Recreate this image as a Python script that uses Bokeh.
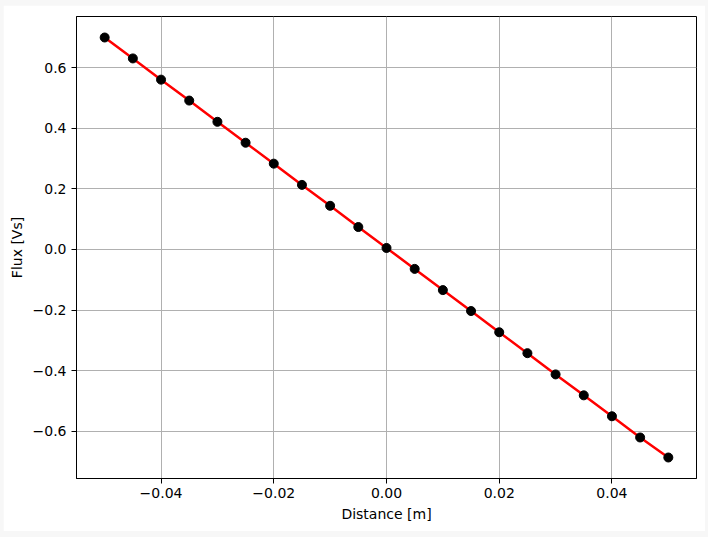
from bokeh.plotting import figure
from bokeh.models import Range1d, FixedTicker, GlobalInlineStyleSheet
from bokeh.embed import file_html
from bokeh.resources import INLINE

distance = [-0.05, -0.045, -0.04, -0.035, -0.03, -0.025, -0.02, -0.015, -0.01, -0.005,
            0.0, 0.005, 0.01, 0.015, 0.02, 0.025, 0.03, 0.035, 0.04, 0.045, 0.05]
flux = [0.699, 0.630, 0.560, 0.491, 0.421, 0.352, 0.283, 0.213, 0.144, 0.074,
        0.005, -0.064, -0.134, -0.203, -0.273, -0.342, -0.412, -0.481, -0.550, -0.620, -0.686]

x_ticks = [-0.04, -0.02, 0.0, 0.02, 0.04]
x_tick_labels = ["\u22120.04", "\u22120.02", "0.00", "0.02", "0.04"]
y_ticks = [-0.6, -0.4, -0.2, 0.0, 0.2, 0.4, 0.6]
y_tick_labels = ["\u22120.6", "\u22120.4", "\u22120.2", "0.0", "0.2", "0.4", "0.6"]

xpad = (max(distance) - min(distance)) * 0.05
ypad = (max(flux) - min(flux)) * 0.05

p = figure(width=702, height=526, output_backend="svg", toolbar_location=None,
           x_range=Range1d(min(distance) - xpad, max(distance) + xpad),
           y_range=Range1d(min(flux) - ypad, max(flux) + ypad),
           min_border_left=73, min_border_right=9, min_border_top=11, min_border_bottom=53)
p.margin = (5, 0, 0, 3)
p.stylesheets = [GlobalInlineStyleSheet(css="body { background: #f7f7f7; margin: 0; }")]

p.outline_line_color = "black"
p.outline_line_width = 1
p.background_fill_color = "white"
p.border_fill_color = "white"

p.line(distance, flux, line_color="red", line_width=2.5)
p.scatter(distance, flux, size=9, fill_color="black", line_color="black")

for ax, ticks, labels in ((p.xaxis, x_ticks, x_tick_labels), (p.yaxis, y_ticks, y_tick_labels)):
    ax.ticker = FixedTicker(ticks=ticks)
    ax.major_label_overrides = {t: l for t, l in zip(ticks, labels)}
    ax.minor_tick_line_color = None
    ax.major_tick_out = 5
    ax.major_tick_in = 0
    ax.axis_line_color = "black"
    ax.major_label_text_font = "DejaVu Sans"
    ax.major_label_text_font_size = "14px"
    ax.major_label_text_color = "black"
    ax.axis_label_text_font = "DejaVu Sans"
    ax.axis_label_text_font_size = "14px"
    ax.axis_label_text_font_style = "normal"
    ax.axis_label_text_color = "black"

p.xaxis.axis_label = "Distance [m]"
p.yaxis.axis_label = "Flux [Vs]"
p.xaxis.major_label_standoff = 4
p.yaxis.major_label_standoff = 5
p.xaxis.axis_label_standoff = 5
p.yaxis.axis_label_standoff = 5

p.xgrid.ticker = FixedTicker(ticks=x_ticks)
p.ygrid.ticker = FixedTicker(ticks=y_ticks)
p.grid.grid_line_color = "#b0b0b0"
p.grid.grid_line_width = 1
p.grid.grid_line_alpha = 1.0

open("out.html", "w").write(file_html(p, INLINE))
